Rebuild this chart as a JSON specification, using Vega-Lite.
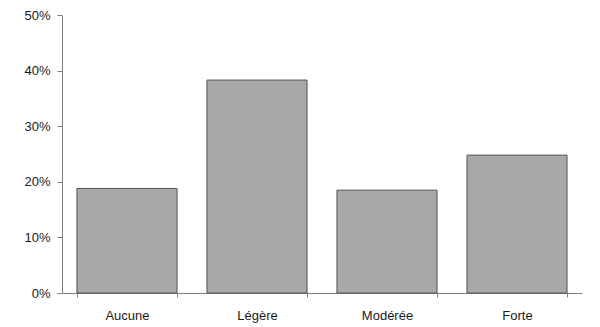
{
  "$schema": "https://vega.github.io/schema/vega-lite/v6.json",
  "autosize": {"type": "none"},
  "padding": {"left": 62, "top": 15, "right": 18, "bottom": 34},
  "width": 520,
  "height": 278,
  "background": "white",
  "config": {
    "view": {"stroke": null},
    "font": "Liberation Sans",
    "axis": {"grid": false, "domainColor": "#808080", "tickColor": "#808080", "labelColor": "#1a1a1a", "labelFontSize": 13, "labelFont": "Liberation Sans"}
  },
  "data": {
    "values": [
      {"cat": "Aucune", "value": 0.188},
      {"cat": "Légère", "value": 0.383},
      {"cat": "Modérée", "value": 0.185},
      {"cat": "Forte", "value": 0.248}
    ]
  },
  "mark": {"type": "bar", "fill": "#a8a8a8", "stroke": "#555555", "strokeWidth": 1},
  "encoding": {
    "x": {
      "field": "cat", "type": "nominal", "sort": null,
      "scale": {"paddingInner": 0.23, "paddingOuter": 0.115},
      "axis": {"title": null, "labelAngle": 0, "tickBand": "extent", "tickSize": 4, "labelPadding": 12}
    },
    "y": {
      "field": "value", "type": "quantitative",
      "scale": {"domain": [0, 0.5], "nice": false},
      "axis": {"title": null, "format": ".0%", "values": [0, 0.1, 0.2, 0.3, 0.4, 0.5], "tickSize": 5, "labelPadding": 7}
    }
  }
}
